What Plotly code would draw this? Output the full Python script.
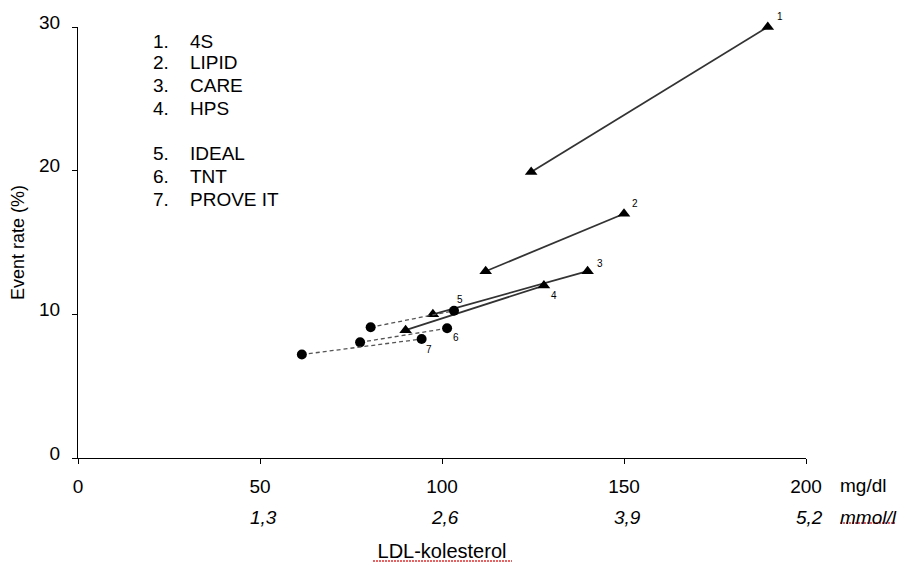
import plotly.graph_objects as go

# ---- data ----
study_nums = ["1", "2", "3", "4", "5", "6", "7"]
study_names = ["4S", "LIPID", "CARE", "HPS", "IDEAL", "TNT", "PROVE IT"]
ldl_low = [124.5, 112, 97.5, 90, 80.4, 77.5, 61.5]
ldl_high = [189.5, 150, 140, 128, 103.3, 101.4, 94.4]
rate_low = [19.9, 13.0, 10.0, 8.9, 9.1, 8.05, 7.2]
rate_high = [30, 17, 13, 12, 10.25, 9.03, 8.28]
mgdl_ticks = [0, 50, 100, 150, 200]
mmol_ticks = [50, 100, 150, 200]
mmol_labels = ["1,3", "2,6", "3,9", "5,2"]
rate_ticks = [0, 10, 20, 30]

FONT = "Liberation Sans, Arial, sans-serif"

fig = go.Figure()

# label offsets (pixels) for study numbers near upper points
lab_off = [(12, 11), (11, 10), (12, 8), (10, -10), (6, 11), (9, -9), (7, -10)]

for i in range(len(study_names)):
    statin = i >= 4
    fig.add_trace(go.Scatter(
        x=[ldl_low[i], ldl_high[i]],
        y=[rate_low[i], rate_high[i]],
        mode="lines+markers",
        line=dict(color="#555555" if statin else "#333333",
                  width=1.3 if statin else 1.8,
                  dash="4px,3px" if statin else "solid"),
        marker=dict(symbol="circle" if statin else "triangle-up",
                    size=10 if statin else 11, color="black",
                    line=dict(width=0)),
        cliponaxis=False,
        showlegend=False,
        hoverinfo="skip",
    ))
    fig.add_annotation(x=ldl_high[i], y=rate_high[i], text=study_nums[i],
                       showarrow=False, xshift=lab_off[i][0], yshift=lab_off[i][1],
                       font=dict(size=10, color="black", family=FONT))

# legend-like list
leg_y = [29.0, 27.55, 25.9, 24.35, 21.2, 19.6, 18.0]
for i in range(len(study_names)):
    fig.add_annotation(x=20.0, y=leg_y[i], text=study_nums[i] + ".", showarrow=False,
                       xanchor="left", yanchor="middle",
                       font=dict(size=19, color="black", family=FONT))
    fig.add_annotation(x=30.1, y=leg_y[i], text=study_names[i], showarrow=False,
                       xanchor="left", yanchor="middle",
                       font=dict(size=19, color="black", family=FONT))

# second row of x labels (mmol/l)
for v, t in zip(mmol_ticks, mmol_labels):
    fig.add_annotation(x=v, y=0, text="<i>" + t + "</i>", showarrow=False,
                       yshift=-59, xshift=3, yanchor="middle",
                       font=dict(size=19, color="black", family=FONT))
fig.add_annotation(x=200, y=0, text="mg/dl", showarrow=False, xanchor="left",
                   xshift=32, yshift=-27, yanchor="middle",
                   font=dict(size=19, color="black", family=FONT))
fig.add_annotation(x=200, y=0, text="<i>mmol/l</i>", showarrow=False, xanchor="left",
                   xshift=32, yshift=-59, yanchor="middle",
                   font=dict(size=19, color="black", family=FONT))

# spell-check style red wavy underline
fig.add_shape(type="line", xref="paper", yref="paper", x0=(373-78)/728, x1=(512-78)/728,
              y0=-(561-458)/431, y1=-(561-458)/431,
              line=dict(color="#e03030", width=1.3, dash="2px,1px"))
fig.add_shape(type="line", xref="paper", yref="paper", x0=(840-78)/728, x1=(895-78)/728,
              y0=-(523-458)/431, y1=-(523-458)/431,
              line=dict(color="#e03030", width=1.3, dash="2px,1px"))

# page body has an 8px margin, so the figure is offset by 8px
fig.update_layout(
    width=897, height=557,
    margin=dict(l=70, r=99, t=19, b=107, autoexpand=False),
    paper_bgcolor="white", plot_bgcolor="white",
    font=dict(family=FONT, size=19, color="black"),
    xaxis=dict(range=[0, 200], tickvals=mgdl_ticks, ticktext=[str(v) for v in mgdl_ticks],
               showline=True, linecolor="black", linewidth=1, ticks="outside",
               ticklen=5, tickcolor="black", showgrid=False, zeroline=False,
               ticklabelstandoff=6, automargin=False,
               title=dict(text="LDL-kolesterol", standoff=48,
                          font=dict(size=20, family=FONT))),
    yaxis=dict(range=[0, 30], tickvals=rate_ticks,
               showline=True, linecolor="black", linewidth=1, ticks="outside",
               ticklen=5, tickcolor="black", showgrid=False, zeroline=False,
               ticklabelstandoff=8, ticklabelshift=-5, automargin=False,
               title=dict(text="Event rate (%)", standoff=9,
                          font=dict(size=18, family=FONT))),
)

fig.write_html("out.html")
